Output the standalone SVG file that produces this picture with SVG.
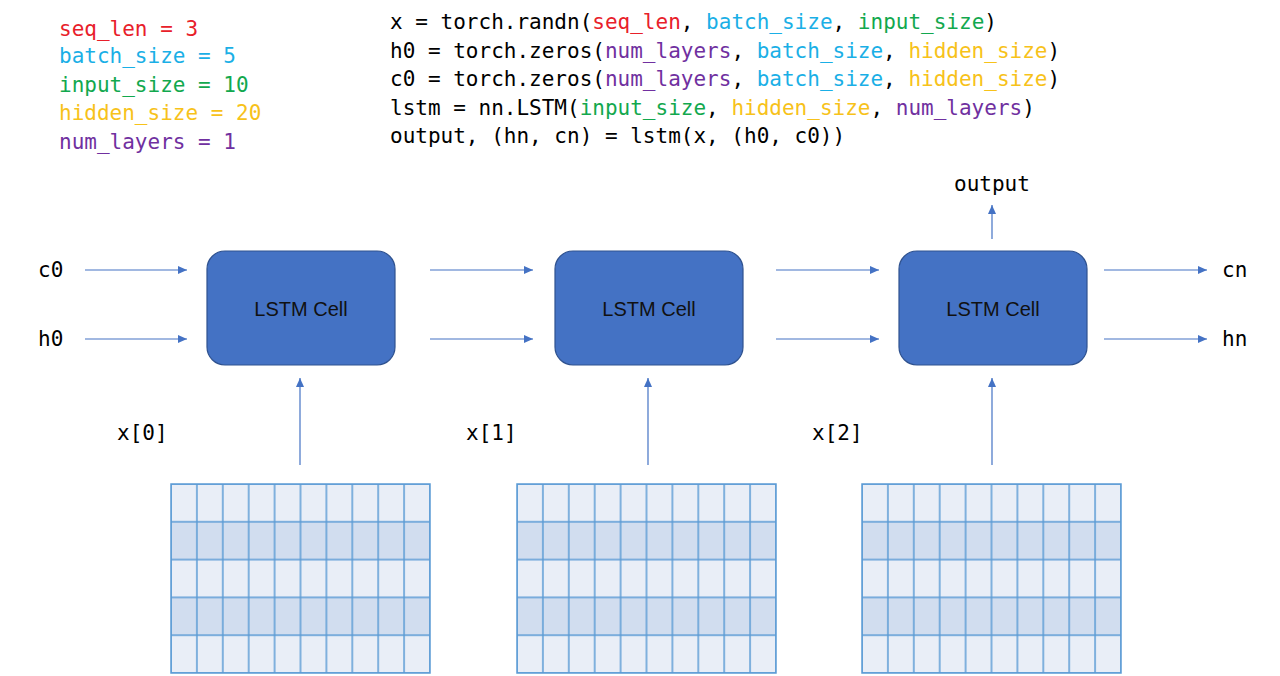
<svg xmlns="http://www.w3.org/2000/svg" width="1280" height="676" viewBox="0 0 1280 676">
<defs>
<marker id="ah" markerWidth="10" markerHeight="8" refX="9" refY="4" orient="auto" markerUnits="userSpaceOnUse">
<path d="M0,0 L9,4 L0,8 Z" fill="#4472C4"/>
</marker>
<pattern id="grid" x="0" y="0" width="25.9" height="37.8" patternUnits="userSpaceOnUse">
<rect width="25.9" height="37.8" fill="none" stroke="#5B9BD5" stroke-width="1.5"/>
</pattern>
</defs>
<style>
.code{font-family:"DejaVu Sans Mono","Liberation Mono",monospace;font-size:21px;fill:#000}
.lbl{font-family:"DejaVu Sans Mono","Liberation Mono",monospace;font-size:21px;fill:#000}
.cell{fill:#4472C4;stroke:#2F528F;stroke-width:1.2}
.celltxt{font-family:"Liberation Sans",Arial,sans-serif;font-size:20px;fill:#111;text-anchor:middle}
.conn{stroke:#4472C4;stroke-width:1.2;fill:none;marker-end:url(#ah)}
.r{fill:#E8202A}.b{fill:#1AAFE6}.g{fill:#12A84E}.y{fill:#F7C21A}.p{fill:#7030A0}
.light{fill:#E9EEF7}.dark{fill:#D1DDEF}
.gl{stroke:#5B9BD5;stroke-width:1.5;fill:none}
</style>
<rect width="1280" height="676" fill="#fff"/>
<g id="params">
<text class="code" x="59" y="36"><tspan class="r">seq_len = 3</tspan></text>
<text class="code" x="59" y="63"><tspan class="b">batch_size = 5</tspan></text>
<text class="code" x="59" y="92"><tspan class="g">input_size = 10</tspan></text>
<text class="code" x="59" y="120"><tspan class="y">hidden_size = 20</tspan></text>
<text class="code" x="59" y="149"><tspan class="p">num_layers = 1</tspan></text>
</g>
<g id="code">
<text class="code" x="390" y="29">x = torch.randn(<tspan class="r">seq_len</tspan>, <tspan class="b">batch_size</tspan>, <tspan class="g">input_size</tspan>)</text>
<text class="code" x="390" y="58">h0 = torch.zeros(<tspan class="p">num_layers</tspan>, <tspan class="b">batch_size</tspan>, <tspan class="y">hidden_size</tspan>)</text>
<text class="code" x="390" y="86">c0 = torch.zeros(<tspan class="p">num_layers</tspan>, <tspan class="b">batch_size</tspan>, <tspan class="y">hidden_size</tspan>)</text>
<text class="code" x="390" y="115">lstm = nn.LSTM(<tspan class="g">input_size</tspan>, <tspan class="y">hidden_size</tspan>, <tspan class="p">num_layers</tspan>)</text>
<text class="code" x="390" y="143">output, (hn, cn) = lstm(x, (h0, c0))</text>
</g>
<g id="connectors">
<line class="conn" x1="85" y1="270" x2="187" y2="270"/>
<line class="conn" x1="85" y1="339" x2="187" y2="339"/>
<line class="conn" x1="430" y1="270" x2="533" y2="270"/>
<line class="conn" x1="430" y1="339" x2="533" y2="339"/>
<line class="conn" x1="776" y1="270" x2="879" y2="270"/>
<line class="conn" x1="776" y1="339" x2="879" y2="339"/>
<line class="conn" x1="1104" y1="270" x2="1207" y2="270"/>
<line class="conn" x1="1104" y1="339" x2="1207" y2="339"/>
<line class="conn" x1="300" y1="465" x2="300" y2="378"/>
<line class="conn" x1="648" y1="465" x2="648" y2="378"/>
<line class="conn" x1="992" y1="465" x2="992" y2="378"/>
<line class="conn" x1="992" y1="239" x2="992" y2="205"/>
</g>
<g id="labels">
<text class="lbl" x="38" y="277">c0</text>
<text class="lbl" x="38" y="346">h0</text>
<text class="lbl" x="117" y="440">x[0]</text>
<text class="lbl" x="466" y="440">x[1]</text>
<text class="lbl" x="812" y="440">x[2]</text>
<text class="lbl" x="954" y="191">output</text>
<text class="lbl" x="1222" y="277">cn</text>
<text class="lbl" x="1222" y="346">hn</text>
</g>
<g id="cell1"><rect class="cell" x="207" y="251" width="188" height="114" rx="18"/><text class="celltxt" x="301" y="316">LSTM Cell</text></g>
<g id="cell2"><rect class="cell" x="555" y="251" width="188" height="114" rx="18"/><text class="celltxt" x="649" y="316">LSTM Cell</text></g>
<g id="cell3"><rect class="cell" x="899" y="251" width="188" height="114" rx="18"/><text class="celltxt" x="993" y="316">LSTM Cell</text></g>
<g id="x0" transform="translate(171,484)">
<rect class="light" width="259" height="189"/>
<rect class="dark" y="37.8" width="259" height="37.8"/>
<rect class="dark" y="113.4" width="259" height="37.8"/>
<rect width="259" height="189" fill="url(#grid)"/>
<rect class="gl" width="259" height="189"/>
</g>
<g id="x1" transform="translate(517,484)">
<rect class="light" width="259" height="189"/>
<rect class="dark" y="37.8" width="259" height="37.8"/>
<rect class="dark" y="113.4" width="259" height="37.8"/>
<rect width="259" height="189" fill="url(#grid)"/>
<rect class="gl" width="259" height="189"/>
</g>
<g id="x2" transform="translate(862,484)">
<rect class="light" width="259" height="189"/>
<rect class="dark" y="37.8" width="259" height="37.8"/>
<rect class="dark" y="113.4" width="259" height="37.8"/>
<rect width="259" height="189" fill="url(#grid)"/>
<rect class="gl" width="259" height="189"/>
</g>
</svg>
